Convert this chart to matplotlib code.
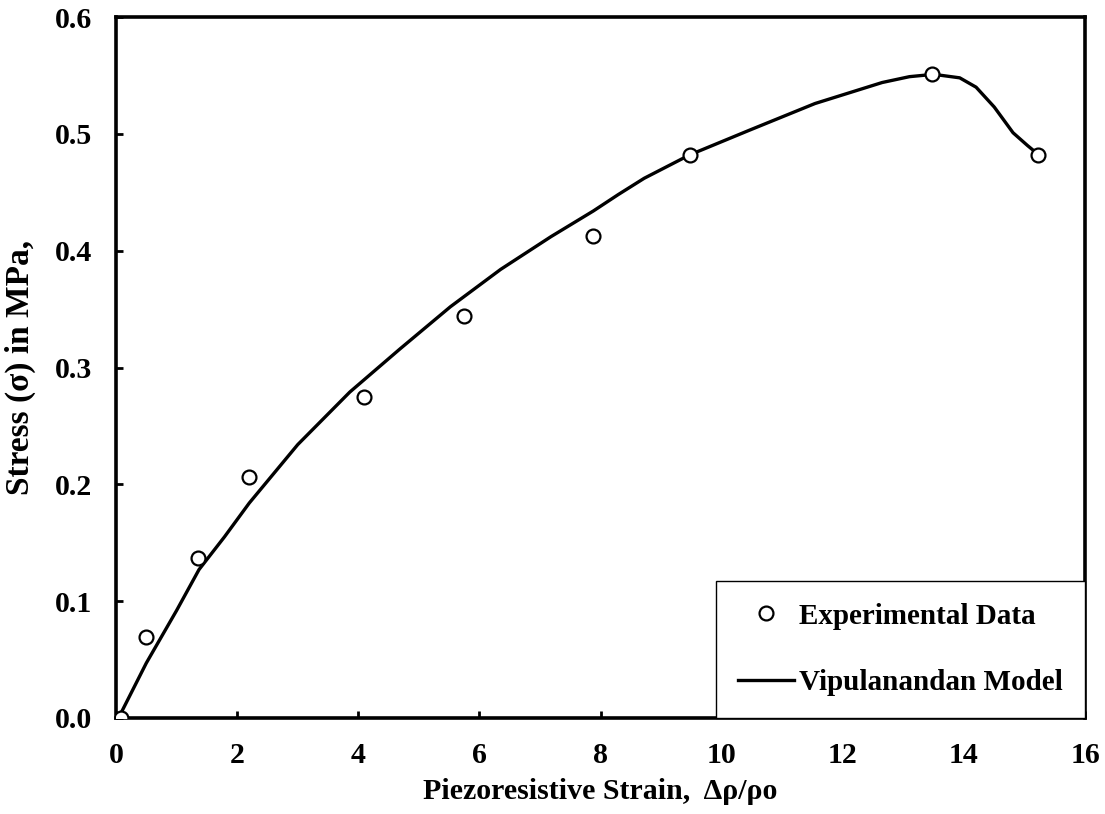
import matplotlib.pyplot as plt

# experimental points
exp_strain = [0.08, 0.49, 1.36, 2.2, 4.1, 5.74, 7.87, 9.48, 13.48, 15.22]
exp_stress = [0.0, 0.069, 0.137, 0.206, 0.275, 0.344, 0.413, 0.482, 0.551, 0.482]

# model curve
model_strain = [0.1, 0.5, 1.0, 1.37, 1.79, 2.2, 3.0, 3.86, 4.69, 5.52, 6.35, 7.18,
                7.88, 8.29, 8.72, 9.47, 10.17, 10.45, 11.54, 12.65, 13.1, 13.5,
                13.93, 14.2, 14.5, 14.81, 15.05, 15.26]
model_stress = [0.006, 0.047, 0.092, 0.127, 0.155, 0.184, 0.234, 0.279, 0.316, 0.352,
                0.384, 0.412, 0.434, 0.448, 0.462, 0.482, 0.497, 0.503, 0.526, 0.544,
                0.549, 0.551, 0.548, 0.540, 0.523, 0.501, 0.490, 0.481]

x_ticks = [0, 2, 4, 6, 8, 10, 12, 14, 16]
y_ticks = [0.0, 0.1, 0.2, 0.3, 0.4, 0.5, 0.6]

plt.rcParams['font.family'] = ['Liberation Serif', 'DejaVu Serif']
plt.rcParams['font.weight'] = 'bold'

fig = plt.figure(figsize=(11.05, 8.14), dpi=100)
ax = fig.add_axes([0.105, 0.118, 0.877, 0.861])

ax.plot(exp_strain, exp_stress, 'o', mfc='white', mec='black', ms=10, mew=1.6,
        label='Experimental Data', zorder=3)
ax.plot(model_strain, model_stress, '-', color='black', lw=2.4,
        solid_joinstyle='round', label='Vipulanandan Model', zorder=2)

ax.set_xlim(0, 16)
ax.set_ylim(0, 0.6)
ax.set_xticks(x_ticks)
ax.set_yticks(y_ticks)
ax.set_xticklabels([str(t) for t in x_ticks])
ax.set_yticklabels([f'{t:.1f}' for t in y_ticks])

for s in ax.spines.values():
    s.set_linewidth(2.6)
ax.tick_params(direction='in', length=5, width=2, labelsize=21.5, top=False, right=False)
ax.tick_params(axis='y', pad=17)
ax.tick_params(axis='x', pad=17)

ax.set_xlabel('Piezoresistive Strain,  \u0394\u03c1/\u03c1o', fontsize=21.5, fontweight='bold')
ax.set_ylabel('Stress (\u03c3) in MPa,', fontsize=24, fontweight='bold')
ax.xaxis.set_label_coords(0.5, -0.086)
ax.yaxis.set_label_coords(-0.083, 0.5)

leg = ax.legend(loc='lower right', bbox_to_anchor=(1.0, 0.0), borderaxespad=0,
                fancybox=False, edgecolor='black', framealpha=1, fontsize=21,
                handlelength=1.9, labelspacing=1.35, borderpad=0.75, handletextpad=0.2)
leg.get_frame().set_linewidth(1.0)

fig.savefig('out.png', dpi=100)
